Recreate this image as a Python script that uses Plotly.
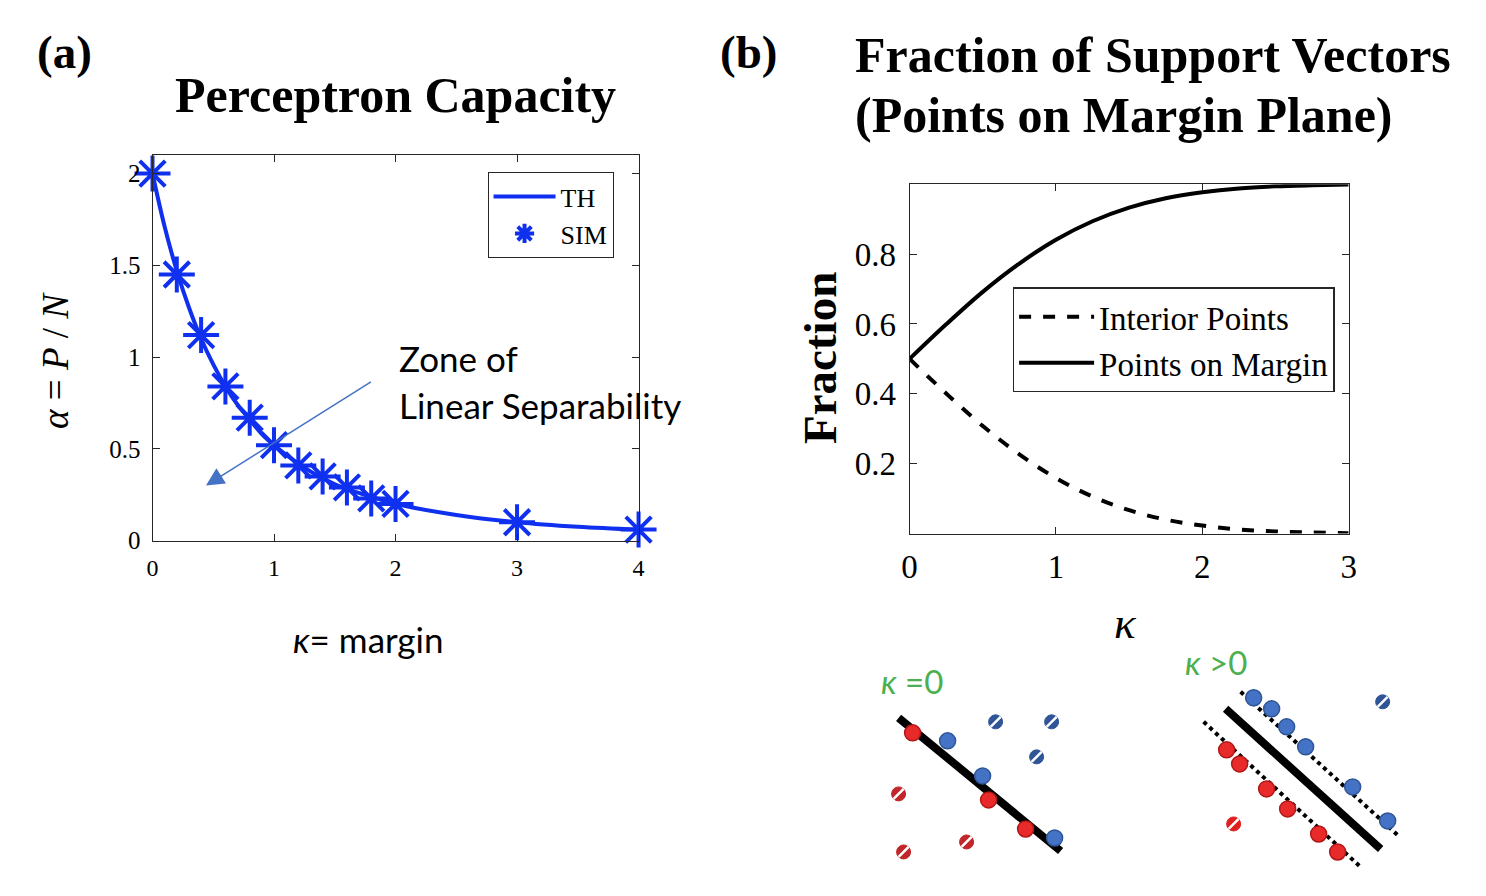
import plotly.graph_objects as go

# page body keeps its 8px margin, so the figure is sized to fit inside the window
PAGE_W, PAGE_H = 1486, 896
OFF = 8
W, H = PAGE_W - 2 * OFF, PAGE_H - 2 * OFF
# measured correction between requested and photographed positions
SX, SY, DX, DY = 0.989, 0.983, 7.6, 0.1

# panel (a): perceptron capacity
kappa_th = [0, 0.1, 0.2, 0.3, 0.4, 0.5, 0.6, 0.7, 0.8, 0.9, 1.0, 1.2, 1.4, 1.6, 1.8, 2.0, 2.5, 3.0, 3.5, 4.0]
alpha_th = [2.0, 1.71, 1.47, 1.27, 1.10, 0.96, 0.84, 0.74, 0.66, 0.58, 0.52, 0.42, 0.34, 0.28, 0.24, 0.20, 0.14, 0.10, 0.075, 0.059]
kappa_sim = [0, 0.2, 0.4, 0.6, 0.8, 1.0, 1.2, 1.4, 1.6, 1.8, 2.0, 3.0, 4.0]
alpha_sim = [2.0, 1.45, 1.12, 0.84, 0.67, 0.52, 0.41, 0.35, 0.29, 0.23, 0.20, 0.10, 0.06]

# panel (b): fraction of support vectors
kappa_frac = [0, 0.25, 0.5, 0.75, 1.0, 1.25, 1.5, 1.75, 2.0, 2.25, 2.5, 2.75, 3.0]
margin_frac = [0.5, 0.599, 0.692, 0.773, 0.841, 0.894, 0.933, 0.960, 0.977, 0.988, 0.994, 0.997, 0.999]
interior_frac = [0.5, 0.401, 0.308, 0.227, 0.159, 0.106, 0.067, 0.040, 0.023, 0.012, 0.006, 0.003, 0.001]

# sketches below panel (b), in picture pixel units
k0_line_x = [898, 1060]
k0_line_y = [717, 850]
k0_blue_x = [947, 982, 1054]
k0_blue_y = [740, 775, 837]
k0_red_x = [912, 988, 1025]
k0_red_y = [732, 799, 828]
k0_blue_open_x = [995, 1051, 1036]
k0_blue_open_y = [721, 721, 756]
k0_red_open_x = [898, 966, 903]
k0_red_open_y = [793, 841, 851]

kp_line_x = [1225, 1380]
kp_line_y = [708, 848]
kp_up_x = [1240, 1398]
kp_up_y = [691, 835]
kp_low_x = [1203, 1361]
kp_low_y = [721, 867]
kp_blue_x = [1253, 1271, 1286, 1305, 1352, 1387]
kp_blue_y = [697, 708, 726, 746, 786, 820]
kp_red_x = [1226, 1239, 1266, 1287, 1318, 1337]
kp_red_y = [749, 763, 788, 808, 833, 851]
kp_blue_open_x = [1382]
kp_blue_open_y = [701]
kp_red_open_x = [1233]
kp_red_open_y = [823]


def px(x):
    xi = (x - DX) / SX
    return min(1, max(0, (xi - OFF) / W))


def py(y):
    yi = (y - DY) / SY
    return min(1, max(0, 1 - (yi - OFF) / H))


SERIF = "Liberation Serif"
SANS = "Lato"
BLUE = "#1030f0"
GREEN = "#4caf50"
AXC = "#262626"

fig = go.Figure()

# (a) curves
fig.add_trace(go.Scatter(x=kappa_th, y=alpha_th, mode="lines", name="TH",
                         line=dict(color=BLUE, width=4, shape="spline"),
                         xaxis="x", yaxis="y", legend="legend"))
fig.add_trace(go.Scatter(x=kappa_sim, y=alpha_sim, mode="markers", name="SIM",
                         marker=dict(symbol="asterisk", size=30, color=BLUE,
                                     line=dict(color=BLUE, width=4)),
                         cliponaxis=False,
                         xaxis="x", yaxis="y", legend="legend"))

# (b) curves
fig.add_trace(go.Scatter(x=kappa_frac, y=interior_frac, mode="lines", name="Interior Points",
                         line=dict(color="black", width=4, dash="dash", shape="spline"),
                         xaxis="x2", yaxis="y2", legend="legend2"))
fig.add_trace(go.Scatter(x=kappa_frac, y=margin_frac, mode="lines", name="Points on Margin",
                         line=dict(color="black", width=4, shape="spline"),
                         xaxis="x2", yaxis="y2", legend="legend2"))

# sketches
def sk(x, y, **kw):
    fig.add_trace(go.Scatter(x=x, y=y, xaxis="x3", yaxis="y3", showlegend=False,
                             hoverinfo="skip", cliponaxis=False, **kw))


sk(k0_line_x, k0_line_y, mode="lines", line=dict(color="black", width=8))
sk(kp_line_x, kp_line_y, mode="lines", line=dict(color="black", width=8))
sk(kp_up_x, kp_up_y, mode="lines", line=dict(color="black", width=4, dash="dot"))
sk(kp_low_x, kp_low_y, mode="lines", line=dict(color="black", width=4, dash="dot"))

for bx, by in [(k0_blue_x, k0_blue_y), (kp_blue_x, kp_blue_y)]:
    sk(bx, by, mode="markers", marker=dict(size=16, color="#4472c4",
                                           line=dict(color="#2f5597", width=1.5)))
for rx, ry in [(k0_red_x, k0_red_y), (kp_red_x, kp_red_y)]:
    sk(rx, ry, mode="markers", marker=dict(size=16, color="#e82a2a",
                                           line=dict(color="#b01818", width=1.5)))
for ox, oy, c in [(k0_blue_open_x, k0_blue_open_y, "#2f5597"),
                  (kp_blue_open_x, kp_blue_open_y, "#2f5597"),
                  (k0_red_open_x, k0_red_open_y, "#c0262a"),
                  (kp_red_open_x, kp_red_open_y, "#e02020")]:
    sk(ox, oy, mode="markers", marker=dict(size=14, color=c, line=dict(color=c, width=1)))
    sk(ox, oy, mode="markers", marker=dict(symbol="line-ne", size=10,
                                           line=dict(color="white", width=2.5)))

axis_common = dict(showline=True, linecolor=AXC, linewidth=1, mirror="ticks",
                   ticks="inside", tickcolor=AXC, ticklen=7, showgrid=False,
                   zeroline=False)

fig.update_layout(
    width=W, height=H,
    margin=dict(l=0, r=0, t=0, b=0),
    paper_bgcolor="white", plot_bgcolor="rgba(0,0,0,0)",
    xaxis=dict(domain=[px(152), px(638)], range=[0, 4], tickvals=[0, 1, 2, 3, 4],
               tickfont=dict(family=SERIF, size=24, color="black"),
               ticklabelstandoff=6, anchor="y", **axis_common),
    yaxis=dict(domain=[py(540), py(155)], range=[0, 2.1], tickvals=[0, 0.5, 1, 1.5, 2],
               ticktext=["0", "0.5", "1", "1.5", "2"],
               tickfont=dict(family=SERIF, size=25, color="black"),
               ticklabelstandoff=6, anchor="x", **axis_common),
    xaxis2=dict(domain=[px(909), px(1348)], range=[0, 3], tickvals=[0, 1, 2, 3],
                tickfont=dict(family=SERIF, size=33, color="black"),
                ticklabelstandoff=4, anchor="y2", **axis_common),
    yaxis2=dict(domain=[py(533), py(184)], range=[0, 1], tickvals=[0.2, 0.4, 0.6, 0.8],
                tickfont=dict(family=SERIF, size=33, color="black"),
                ticklabelstandoff=6, anchor="x2", **axis_common),
    xaxis3=dict(domain=[px(860), px(1420)], range=[860, 1420], visible=False,
                anchor="y3", fixedrange=True),
    yaxis3=dict(domain=[py(870), py(640)], range=[870, 640], visible=False,
                anchor="x3", fixedrange=True),
    legend=dict(x=px(487), y=py(172), xanchor="left", yanchor="top",
                bordercolor=AXC, borderwidth=1, bgcolor="white",
                font=dict(family=SERIF, size=26, color="black"),
                tracegroupgap=0, itemwidth=62),
    legend2=dict(x=px(1012), y=py(287), xanchor="left", yanchor="top",
                 bordercolor=AXC, borderwidth=1.5, bgcolor="white",
                 font=dict(family=SERIF, size=33, color="black"),
                 tracegroupgap=0, itemwidth=75),
    showlegend=True,
)

annots = [
    dict(text="<b>(a)</b>", x=px(35), y=py(52), xanchor="left", size=47, family=SERIF),
    dict(text="<b>Perceptron Capacity</b>", x=px(395), y=py(95), xanchor="center", size=50, family=SERIF),
    dict(text="<b>(b)</b>", x=px(717), y=py(52), xanchor="left", size=47, family=SERIF),
    dict(text="<b>Fraction of Support Vectors</b>", x=px(852), y=py(55), xanchor="left", size=50, family=SERIF),
    dict(text="<b>(Points on Margin Plane)</b>", x=px(852), y=py(115), xanchor="left", size=50, family=SERIF),
    dict(text="<i>κ</i>= margin", x=px(368), y=py(638), xanchor="center", size=35, family=SANS),
    dict(text="Zone of", x=px(396), y=py(358), xanchor="left", size=35, family=SANS),
    dict(text="Linear Separability", x=px(396), y=py(405), xanchor="left", size=35, family=SANS),
    dict(text="<i>κ</i>", x=px(1125), y=py(622), xanchor="center", size=45, family=SERIF),
]
for a in annots:
    fig.add_annotation(text=a["text"], x=a["x"], y=a["y"], xref="paper", yref="paper",
                       xanchor=a["xanchor"], yanchor="middle", showarrow=False,
                       font=dict(family=a["family"], size=a["size"], color="black"))

fig.add_annotation(text="<i>α</i> = <i>P</i> / <i>N</i>", x=px(55), y=py(360), xref="paper", yref="paper",
                   textangle=-90, showarrow=False, xanchor="center", yanchor="middle",
                   font=dict(family=SERIF, size=37, color="black"))
fig.add_annotation(text="<b>Fraction</b>", x=px(820), y=py(358), xref="paper", yref="paper",
                   textangle=-90, showarrow=False, xanchor="center", yanchor="middle",
                   font=dict(family=SERIF, size=47, color="black"))
fig.add_annotation(text="<i>κ</i> =0", x=px(878), y=py(680), xref="paper", yref="paper",
                   xanchor="left", yanchor="middle", showarrow=False,
                   font=dict(family=SANS, size=33, color=GREEN))
fig.add_annotation(text="<i>κ</i> >0", x=px(1182), y=py(661), xref="paper", yref="paper",
                   xanchor="left", yanchor="middle", showarrow=False,
                   font=dict(family=SANS, size=33, color=GREEN))

# arrow into the zone of linear separability
fig.add_annotation(x=0.44, y=0.30, ax=1.81, ay=0.87, xref="x", yref="y", axref="x", ayref="y",
                   showarrow=True, arrowhead=2, arrowsize=2.4, arrowwidth=1.5,
                   arrowcolor="#4472c4", text="")

fig.write_html("out.html")
